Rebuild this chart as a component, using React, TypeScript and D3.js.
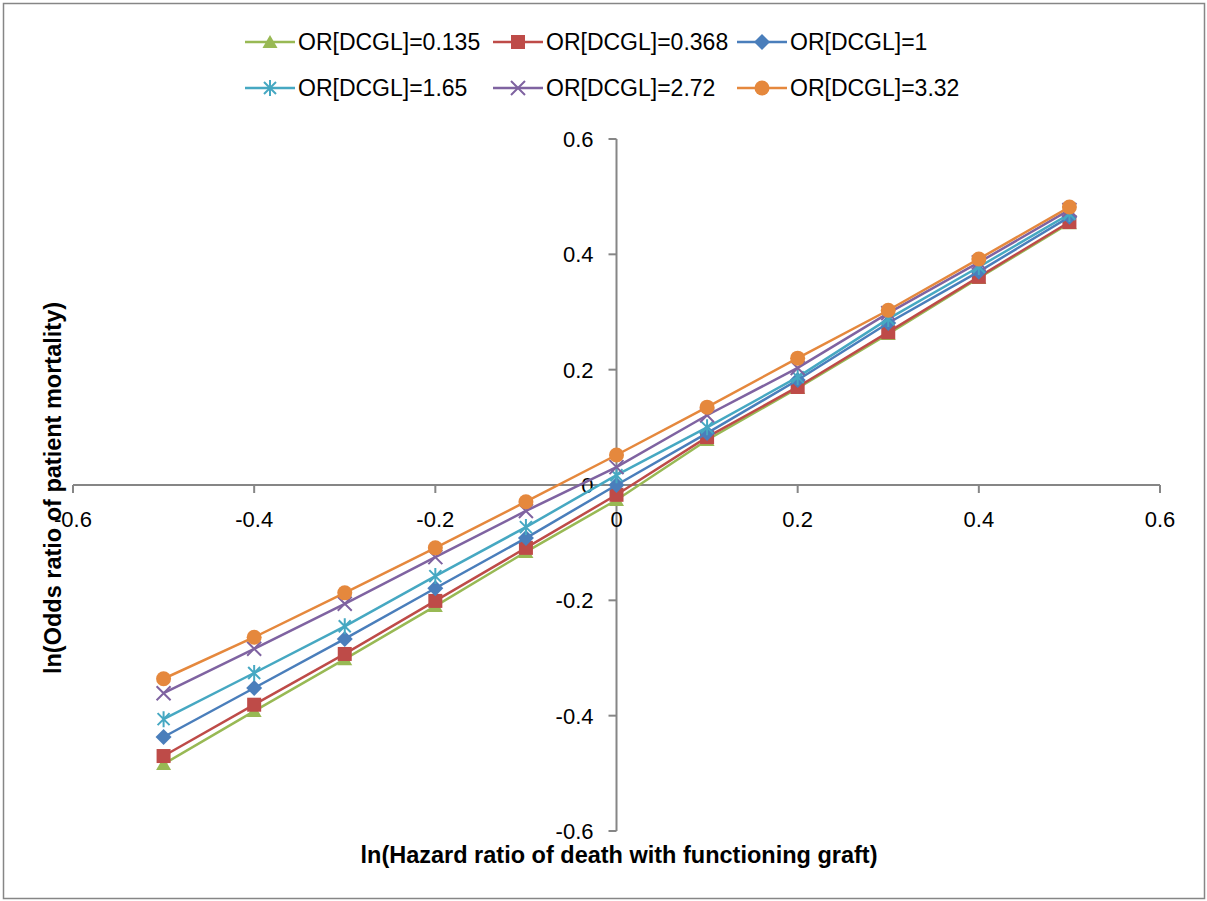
import React from "react";
import * as d3 from "d3";

const xValues = [-0.5, -0.4, -0.3, -0.2, -0.1, 0, 0.1, 0.2, 0.3, 0.4, 0.5];
const seriesNames = [
  "OR[DCGL]=0.135",
  "OR[DCGL]=0.368",
  "OR[DCGL]=1",
  "OR[DCGL]=1.65",
  "OR[DCGL]=2.72",
  "OR[DCGL]=3.32",
];
const or0135 = [-0.484, -0.392, -0.302, -0.21, -0.116, -0.026, 0.078, 0.168, 0.262, 0.359, 0.454];
const or0368 = [-0.47, -0.381, -0.293, -0.201, -0.109, -0.017, 0.083, 0.17, 0.265, 0.361, 0.456];
const or1 = [-0.437, -0.352, -0.267, -0.179, -0.092, 0.0, 0.09, 0.182, 0.281, 0.37, 0.465];
const or165 = [-0.406, -0.326, -0.245, -0.158, -0.073, 0.017, 0.1, 0.187, 0.288, 0.378, 0.47];
const or272 = [-0.361, -0.284, -0.206, -0.125, -0.045, 0.031, 0.121, 0.203, 0.298, 0.386, 0.477];
const or332 = [-0.336, -0.264, -0.187, -0.109, -0.029, 0.052, 0.135, 0.22, 0.303, 0.392, 0.482];
const seriesValues = [or0135, or0368, or1, or165, or272, or332];
const seriesColors = ["#98B954", "#BE4B48", "#4A7EBB", "#46A8C2", "#7F63A1", "#E5883D"];
const markerTypes = ["triangle", "square", "diamond", "asterisk", "cross", "circle"];
const tickValues = [-0.6, -0.4, -0.2, 0, 0.2, 0.4, 0.6];
const xTitle = "ln(Hazard ratio of death with functioning graft)";
const yTitle = "ln(Odds ratio of patient mortality)";

const W = 1207;
const H = 901;
const FONT = "'Liberation Sans', Arial, sans-serif";
const AXIS = "#868686";

function Marker({ type, x, y, color }: { type: string; x: number; y: number; color: string }) {
  const t = `translate(${x},${y})`;
  if (type === "triangle") return <path transform={t} d="M0,-7 L7.5,6 L-7.5,6 Z" fill={color} />;
  if (type === "square") return <rect x={x - 7} y={y - 7} width={14} height={14} fill={color} />;
  if (type === "diamond") return <path transform={t} d="M0,-8 L8,0 L0,8 L-8,0 Z" fill={color} />;
  if (type === "circle") return <circle cx={x} cy={y} r={7.5} fill={color} />;
  if (type === "asterisk")
    return (
      <path transform={t} d="M-6,-6 L6,6 M-6,6 L6,-6 M0,-8 L0,8" stroke={color} strokeWidth={2} fill="none" />
    );
  return <path transform={t} d="M-7,-7 L7,7 M-7,7 L7,-7" stroke={color} strokeWidth={2} fill="none" />;
}

const fmt = (v: number) => (Math.abs(v) < 1e-9 ? "0" : v.toFixed(1));

export default function App() {
  const x = d3.scaleLinear().domain([-0.6, 0.6]).range([73, 1160]);
  const y = d3.scaleLinear().domain([-0.6, 0.6]).range([831, 139]);
  const line = d3
    .line<number>()
    .x((_, i) => x(xValues[i]))
    .y((d) => y(d));

  const legendX = [245, 493, 737];
  const legendY = [42, 88];

  return (
    <svg
      width={W}
      height={H}
      style={{ position: "absolute", left: 0, top: 0, background: "#fff" }}
      fontFamily={FONT}
    >
      <rect x={0} y={0} width={W} height={H} fill="#fff" />
      <rect x={3.5} y={3.5} width={W - 6} height={H - 6} fill="none" stroke={AXIS} strokeWidth={1.5} />

      {/* axes */}
      <line x1={x(-0.6)} x2={x(0.6)} y1={y(0)} y2={y(0)} stroke={AXIS} strokeWidth={2} />
      <line x1={x(0)} x2={x(0)} y1={y(0.6)} y2={y(-0.6)} stroke={AXIS} strokeWidth={2} />
      {tickValues.map((v) => (
        <g key={"xt" + v}>
          <line x1={x(v)} x2={x(v)} y1={y(0)} y2={y(0) + 8} stroke={AXIS} strokeWidth={2} />
          <text x={x(v)} y={y(0) + 42} textAnchor="middle" fontSize={22} fill="#000">
            {fmt(v)}
          </text>
        </g>
      ))}
      {tickValues.map((v) => (
        <g key={"yt" + v}>
          <line x1={x(0) - 8} x2={x(0)} y1={y(v)} y2={y(v)} stroke={AXIS} strokeWidth={2} />
          <text x={x(0) - 23} y={y(v) + 8} textAnchor="end" fontSize={22} fill="#000">
            {fmt(v)}
          </text>
        </g>
      ))}

      {/* series */}
      {seriesValues.map((vals, si) => (
        <g key={"s" + si}>
          <path d={line(vals) || ""} fill="none" stroke={seriesColors[si]} strokeWidth={2.5} />
          {vals.map((v, i) => (
            <Marker key={i} type={markerTypes[si]} x={x(xValues[i])} y={y(v)} color={seriesColors[si]} />
          ))}
        </g>
      ))}

      {/* titles */}
      <text x={619} y={863} textAnchor="middle" fontSize={23.5} fontWeight="bold" fill="#000">
        {xTitle}
      </text>
      <text
        transform={`translate(61,488) rotate(-90)`}
        textAnchor="middle"
        fontSize={23.5}
        fontWeight="bold"
        fill="#000"
      >
        {yTitle}
      </text>

      {/* legend */}
      {seriesNames.map((name, i) => {
        const lx = legendX[i % 3];
        const ly = legendY[Math.floor(i / 3)];
        return (
          <g key={"lg" + i}>
            <line x1={lx} x2={lx + 50} y1={ly} y2={ly} stroke={seriesColors[i]} strokeWidth={2.5} />
            <Marker type={markerTypes[i]} x={lx + 25} y={ly} color={seriesColors[i]} />
            <text x={lx + 53} y={ly + 8} fontSize={23} fill="#000">
              {name}
            </text>
          </g>
        );
      })}
    </svg>
  );
}
